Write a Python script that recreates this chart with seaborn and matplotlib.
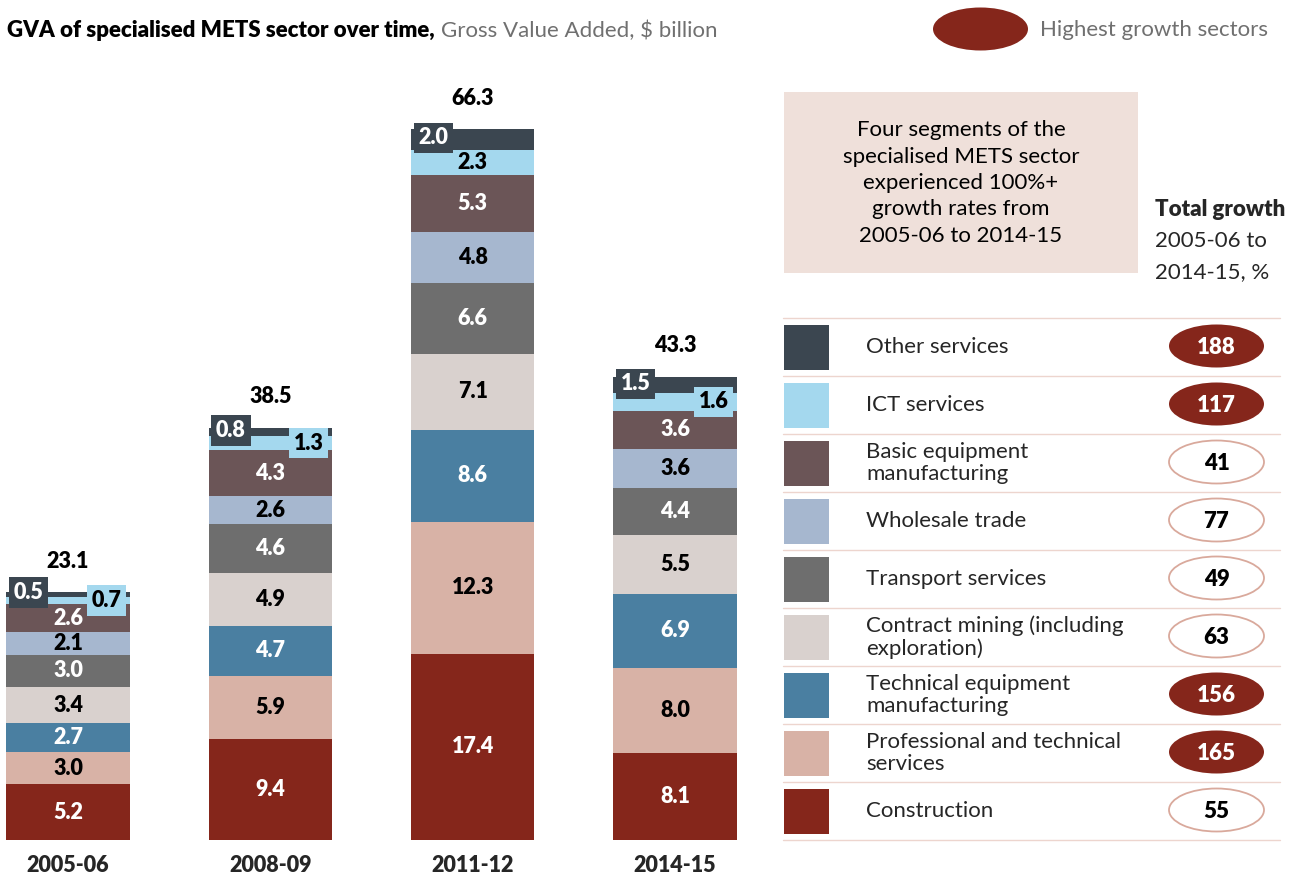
import matplotlib
matplotlib.use("Agg")
import matplotlib.pyplot as plt
import seaborn as sns
import pandas as pd
from matplotlib.patches import Ellipse, Rectangle

# ---- data (bottom of stack to top) ----
years = ["2005-06", "2008-09", "2011-12", "2014-15"]
sectors = ["Construction", "Professional and technical services",
           "Technical equipment manufacturing", "Contract mining (including exploration)",
           "Transport services", "Wholesale trade", "Basic equipment manufacturing",
           "ICT services", "Other services"]
legend_labels = ["Construction", "Professional and technical\nservices",
                 "Technical equipment\nmanufacturing", "Contract mining (including\nexploration)",
                 "Transport services", "Wholesale trade", "Basic equipment\nmanufacturing",
                 "ICT services", "Other services"]
colors = ["#85261B", "#D8B2A6", "#4A7FA1", "#D9D1CE", "#6E6E6E",
          "#A6B7CF", "#6B5557", "#A4D8EE", "#3B4650"]
text_colors = ["white", "black", "white", "black", "white",
               "black", "white", "black", "white"]
v_2005 = [5.2, 3.0, 2.7, 3.4, 3.0, 2.1, 2.6, 0.7, 0.5]
v_2008 = [9.4, 5.9, 4.7, 4.9, 4.6, 2.6, 4.3, 1.3, 0.8]
v_2011 = [17.4, 12.3, 8.6, 7.1, 6.6, 4.8, 5.3, 2.3, 2.0]
v_2014 = [8.1, 8.0, 6.9, 5.5, 4.4, 3.6, 3.6, 1.6, 1.5]
totals = [23.1, 38.5, 66.3, 43.3]
growth = [55, 165, 156, 63, 49, 77, 41, 117, 188]

rows = []
for year, vals in zip(years, [v_2005, v_2008, v_2011, v_2014]):
    for sector, v in zip(sectors, vals):
        rows.append({"year": year, "sector": sector, "value": v})
df = pd.DataFrame(rows)
df["top"] = df.groupby("year")["value"].cumsum()
df["mid"] = df["top"] - df["value"] / 2

sns.set_theme(style="white")
plt.rcParams["font.family"] = ["Lato", "DejaVu Sans"]

W, H = 1295, 882
FS = 16      # table / note text
BFS = 15.5   # bar labels
BOLD = "heavy"
fig = plt.figure(figsize=(W / 100, H / 100), dpi=100)

# bar axes: baseline at y=840px, 10.71 px per $bn
ax = fig.add_axes([0, 42 / H, 743 / W, 780 / H])
for sector, col in reversed(list(zip(sectors, colors))):
    sub = df[df.sector == sector]
    sns.barplot(data=sub, x="year", y="top", order=years, color=col,
                saturation=1, width=0.61, linewidth=0, ax=ax)
ax.set_xlim(-0.336, 3.336)
ax.set_ylim(0, 780 / 10.71)
ax.set(xlabel="", ylabel="", yticks=[])
sns.despine(ax=ax, left=True, bottom=True)
ax.tick_params(axis="x", length=0, pad=11)
for lab in ax.get_xticklabels():
    lab.set_fontweight(BOLD)
    lab.set_fontsize(BFS)

for i, year in enumerate(years):
    sub = df[df.year == year]
    for r, tc, col in zip(sub.itertuples(), text_colors, colors):
        txt = f"{r.value:.1f}"
        if r.sector == "Other services":
            ax.text(i - 0.195, r.mid + 0.15, txt, ha="center", va="center", color=tc,
                    fontsize=BFS, fontweight=BOLD, zorder=6,
                    bbox=dict(boxstyle="square,pad=0.22", fc=col, ec="none"))
        elif r.sector == "ICT services" and r.value < 2:
            ax.text(i + 0.19, r.mid, txt, ha="center", va="center", color=tc,
                    fontsize=BFS, fontweight=BOLD, zorder=5,
                    bbox=dict(boxstyle="square,pad=0.22", fc=col, ec="none"))
        else:
            ax.text(i, r.mid, txt, ha="center", va="center", color=tc,
                    fontsize=BFS, fontweight=BOLD, zorder=5)
    ax.text(i, totals[i] + 2.9, f"{totals[i]:.1f}", ha="center", va="center",
            color="black", fontsize=BFS, fontweight=BOLD)

# overlay axes in pixel coordinates for title, note and legend table
ov = fig.add_axes([0, 0, 1, 1])
ov.set_xlim(0, W)
ov.set_ylim(H, 0)
ov.axis("off")

t1 = ov.text(7, 37, "GVA of specialised METS sector over time,", ha="left", va="baseline",
             fontsize=FS, fontweight=BOLD, color="black")
fig.canvas.draw()
bb = t1.get_window_extent(fig.canvas.get_renderer())
ov.text(bb.x1 + 6, 37, "Gross Value Added, $ billion", ha="left", va="baseline",
        fontsize=FS, color="#707070")

ov.add_patch(Ellipse((980.5, 29), 95, 43, fc="#85261B", ec="none"))
ov.text(1040, 30, "Highest growth sectors", ha="left", va="center",
        fontsize=FS, color="#707070")

ov.add_patch(Rectangle((784, 92), 354, 181, fc="#EFE0DA", ec="none"))
ov.text(961, 183, "Four segments of the\nspecialised METS sector\nexperienced 100%+\ngrowth rates from\n2005-06 to 2014-15",
        ha="center", va="center", fontsize=FS, color="black", linespacing=1.4)

ov.text(1155, 209, "Total growth", ha="left", va="center", fontsize=FS, fontweight=BOLD)
ov.text(1155, 241, "2005-06 to", ha="left", va="center", fontsize=FS)
ov.text(1155, 272, "2014-15, %", ha="left", va="center", fontsize=FS)

row_top = 318
row_h = 58
n = len(sectors)
for k in range(n + 1):
    ov.plot([783, 1280], [row_top + k * row_h] * 2, color="#EDD5CE", lw=1)
for k, idx in enumerate(reversed(range(n))):
    yc = row_top + k * row_h + row_h / 2
    ov.add_patch(Rectangle((784, yc - 22.5), 45, 45, fc=colors[idx], ec="none"))
    ov.text(866, yc, legend_labels[idx], ha="left", va="center", fontsize=FS,
            linespacing=1.15)
    hot = growth[idx] > 100
    ov.add_patch(Ellipse((1216.5, yc - 1), 95, 43, fc="#85261B" if hot else "white",
                         ec="none" if hot else "#D9A99C", lw=1.3))
    ov.text(1216.5, yc, str(growth[idx]), ha="center", va="center", fontsize=FS,
            fontweight=BOLD, color="white" if hot else "black")

fig.savefig("out.png", dpi=100)
